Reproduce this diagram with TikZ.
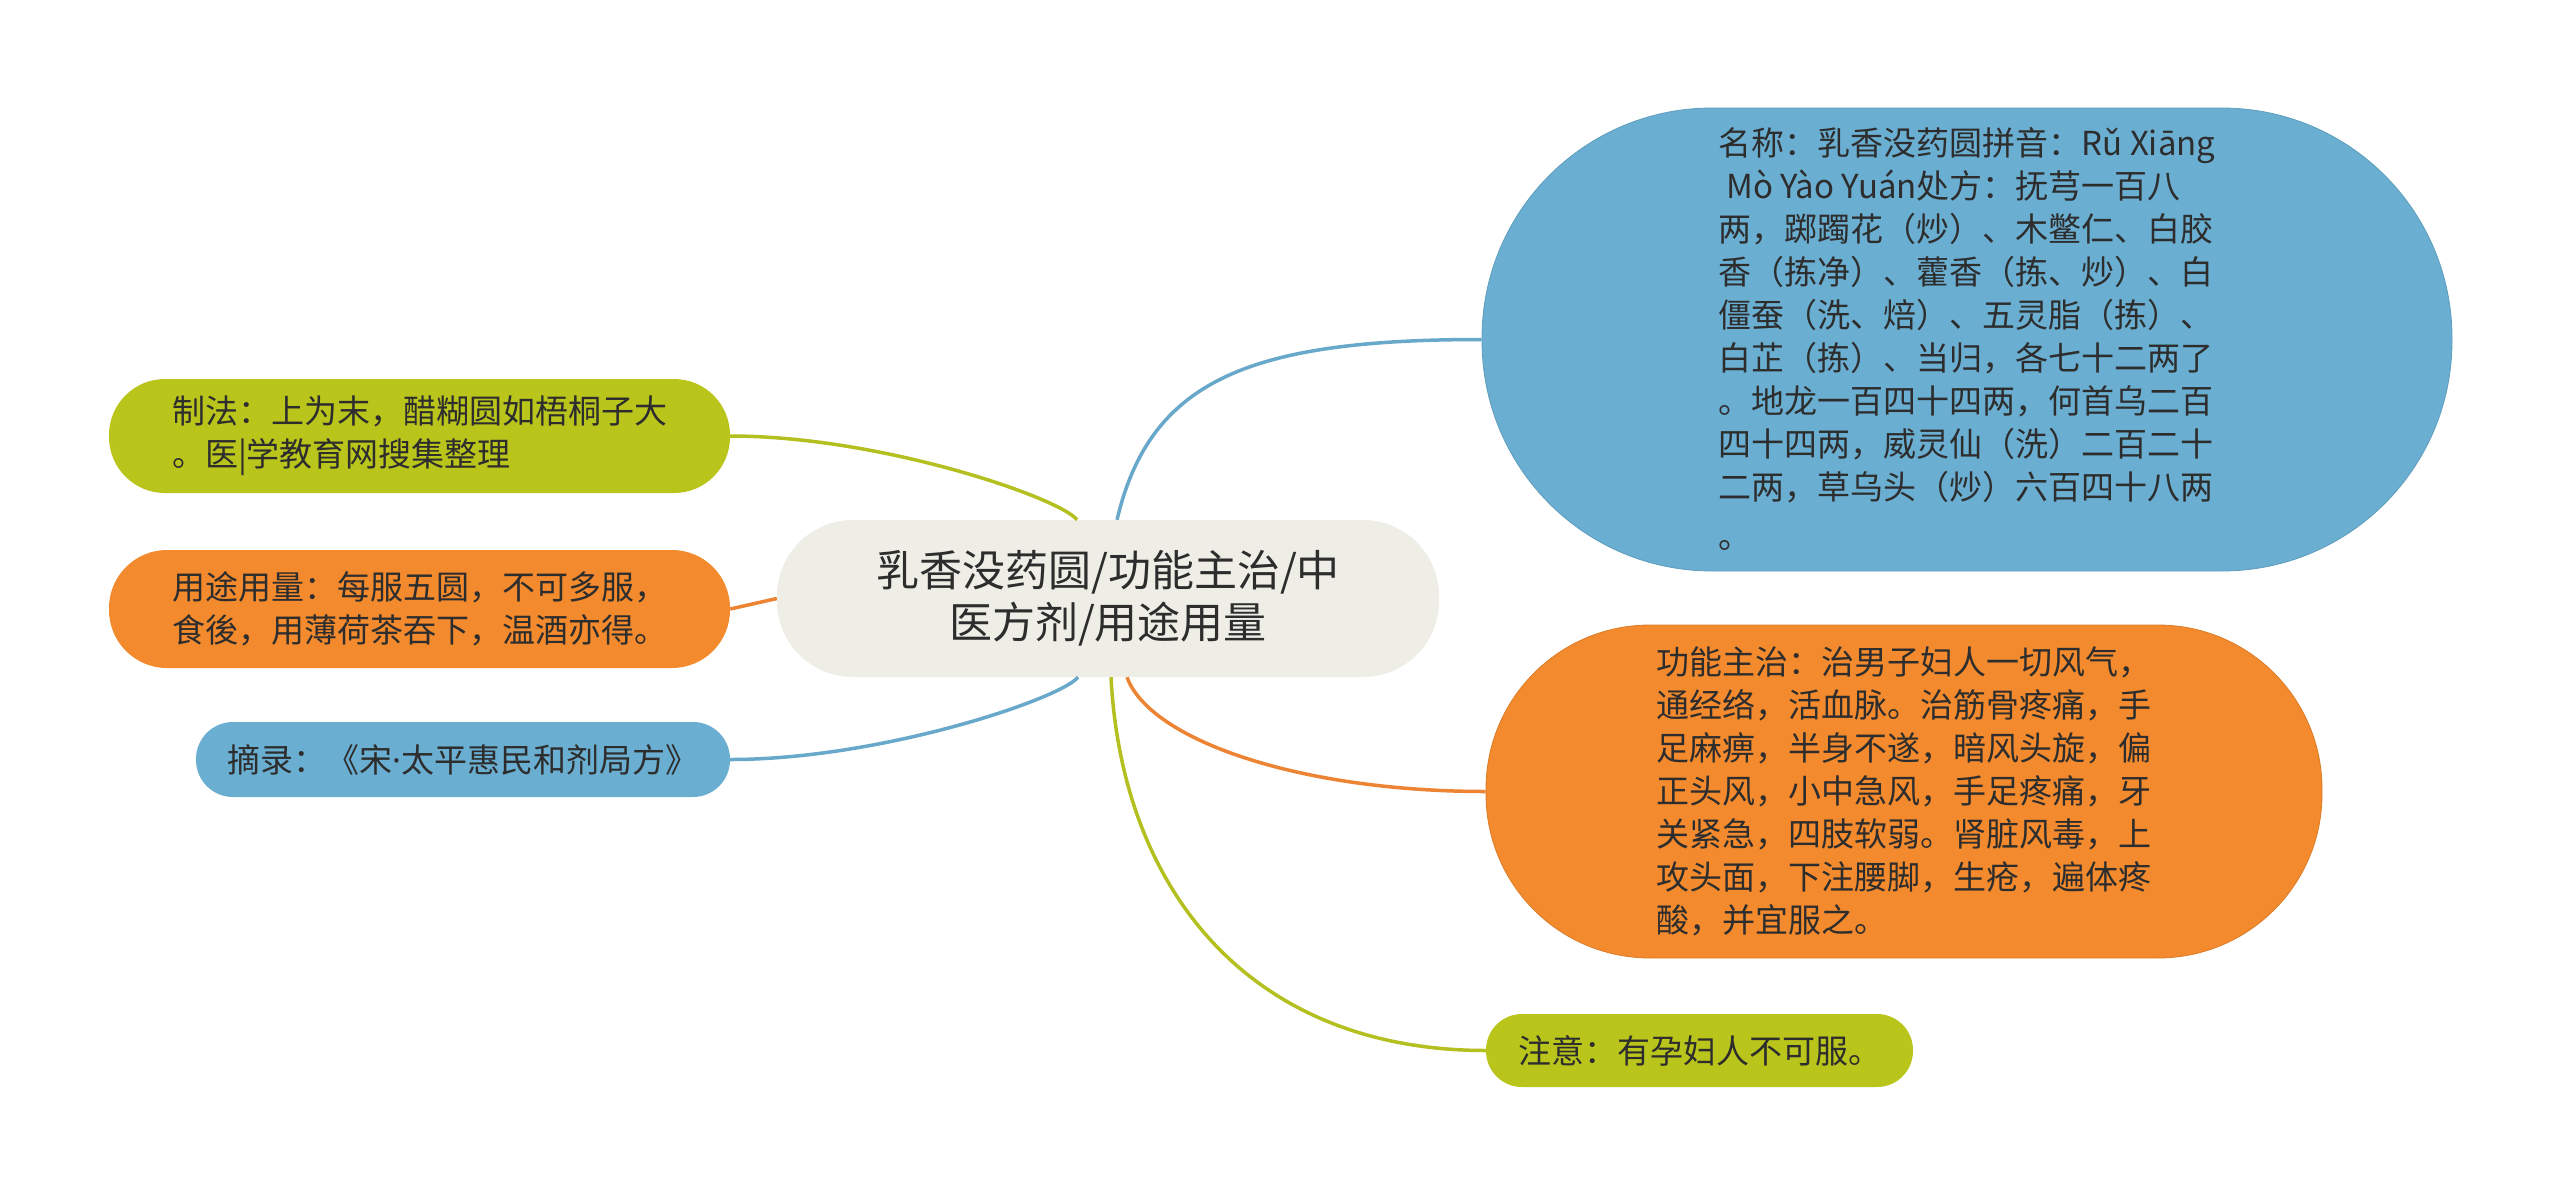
\documentclass[tikz,border=0pt]{standalone}
\usepackage{fontspec}
\setmainfont{Noto Sans CJK SC}
\newfontfamily\latinfont{Noto Sans}
\definecolor{cblue}{RGB}{106,174,209}
\definecolor{cblueline}{RGB}{104,168,202}
\definecolor{corange}{RGB}{243,138,45}
\definecolor{corangeline}{RGB}{236,132,52}
\definecolor{cgreen}{RGB}{186,197,27}
\definecolor{cgreenline}{RGB}{180,192,32}
\definecolor{ccenter}{RGB}{238,238,230}
\definecolor{ctext}{RGB}{45,45,45}
\tikzset{
  leaf/.style={rectangle, inner sep=0pt, align=left, text=ctext,
    font=\fontsize{33}{43}\selectfont},
  rootbox/.style={rectangle, inner sep=0pt, align=center, text=ctext, fill=ccenter,
    rounded corners=76pt, minimum width=662pt, minimum height=157pt,
    font=\fontsize{43}{52}\selectfont},
  conn/.style={line width=3.5pt},
}
\begin{document}
\begin{tikzpicture}[x=1pt,y=-1pt]
\useasboundingbox (0,0) rectangle (2560,1197);
\fill[white] (0,0) rectangle (2560,1197);

% nodes
\node[rootbox] (c) at (1108,598.5) {乳香没药圆/功能主治/中\\医方剂/用途用量};

\node[leaf, fill=cblue, draw=cblue!90!black, line width=0.8pt, rounded corners=230pt,
  minimum width=970pt, minimum height=463pt] (b) at (1967,339.5)
  {名称：乳香没药圆拼音：Rǔ Xiāng\\
   \hspace*{8pt}Mò Yào Yuán处方：抚芎一百八\\
   两，踯躅花（炒）、木鳖仁、白胶\\
   香（拣净）、藿香（拣、炒）、白\\
   僵蚕（洗、焙）、五灵脂（拣）、\\
   白芷（拣）、当归，各七十二两了\\
   。地龙一百四十四两，何首乌二百\\
   四十四两，威灵仙（洗）二百二十\\
   二两，草乌头（炒）六百四十八两\\[6pt]
   。};

\node[leaf, fill=corange, draw=corange!90!black, line width=0.8pt, rounded corners=164pt,
  minimum width=836pt, minimum height=333pt] (o) at (1904,791.5)
  {功能主治：治男子妇人一切风气，\\
   通经络，活血脉。治筋骨疼痛，手\\
   足麻痹，半身不遂，暗风头旋，偏\\
   正头风，小中急风，手足疼痛，牙\\
   关紧急，四肢软弱。肾脏风毒，上\\
   攻头面，下注腰脚，生疮，遍体疼\\
   酸，并宜服之。};

\node[leaf, fill=cgreen, rounded corners=36pt,
  minimum width=427pt, minimum height=73pt] (g) at (1699.5,1050.5)
  {注意：有孕妇人不可服。};

\node[leaf, fill=cgreen, rounded corners=56pt,
  minimum width=621pt, minimum height=114pt] (lg) at (419.5,436)
  {制法：上为末，醋糊圆如梧桐子大\\。医|学教育网搜集整理};

\node[leaf, fill=corange, rounded corners=58pt,
  minimum width=621pt, minimum height=118pt] (lo) at (419.5,609)
  {用途用量：每服五圆，不可多服，\\食後，用薄荷茶吞下，温酒亦得。};

\node[leaf, fill=cblue, rounded corners=37pt,
  minimum width=534pt, minimum height=75pt] (lb) at (463,759.5)
  {摘录：《宋{\latinfont ·}太平惠民和剂局方》};

% connectors
\draw[conn, cblueline] ([xshift=9pt]c.north) .. controls +(33,-140) and +(-232,0) .. (b.west);
\draw[conn, corangeline] ([xshift=19pt]c.south) .. controls +(23,63) and +(-186,0) .. (o.west);
\draw[conn, cgreenline] ([xshift=3pt]c.south) .. controls +(11,213) and +(-236,0) .. (g.west);
\draw[conn, cgreenline] (lg.east) .. controls +(150,0) and +(-17,-22) .. ([xshift=-31pt]c.north);
\draw[conn, corangeline] (lo.east) -- (c.west);
\draw[conn, cblueline] (lb.east) .. controls +(150,0) and +(-18,22) .. ([xshift=-30pt]c.south);
\end{tikzpicture}
\end{document}
